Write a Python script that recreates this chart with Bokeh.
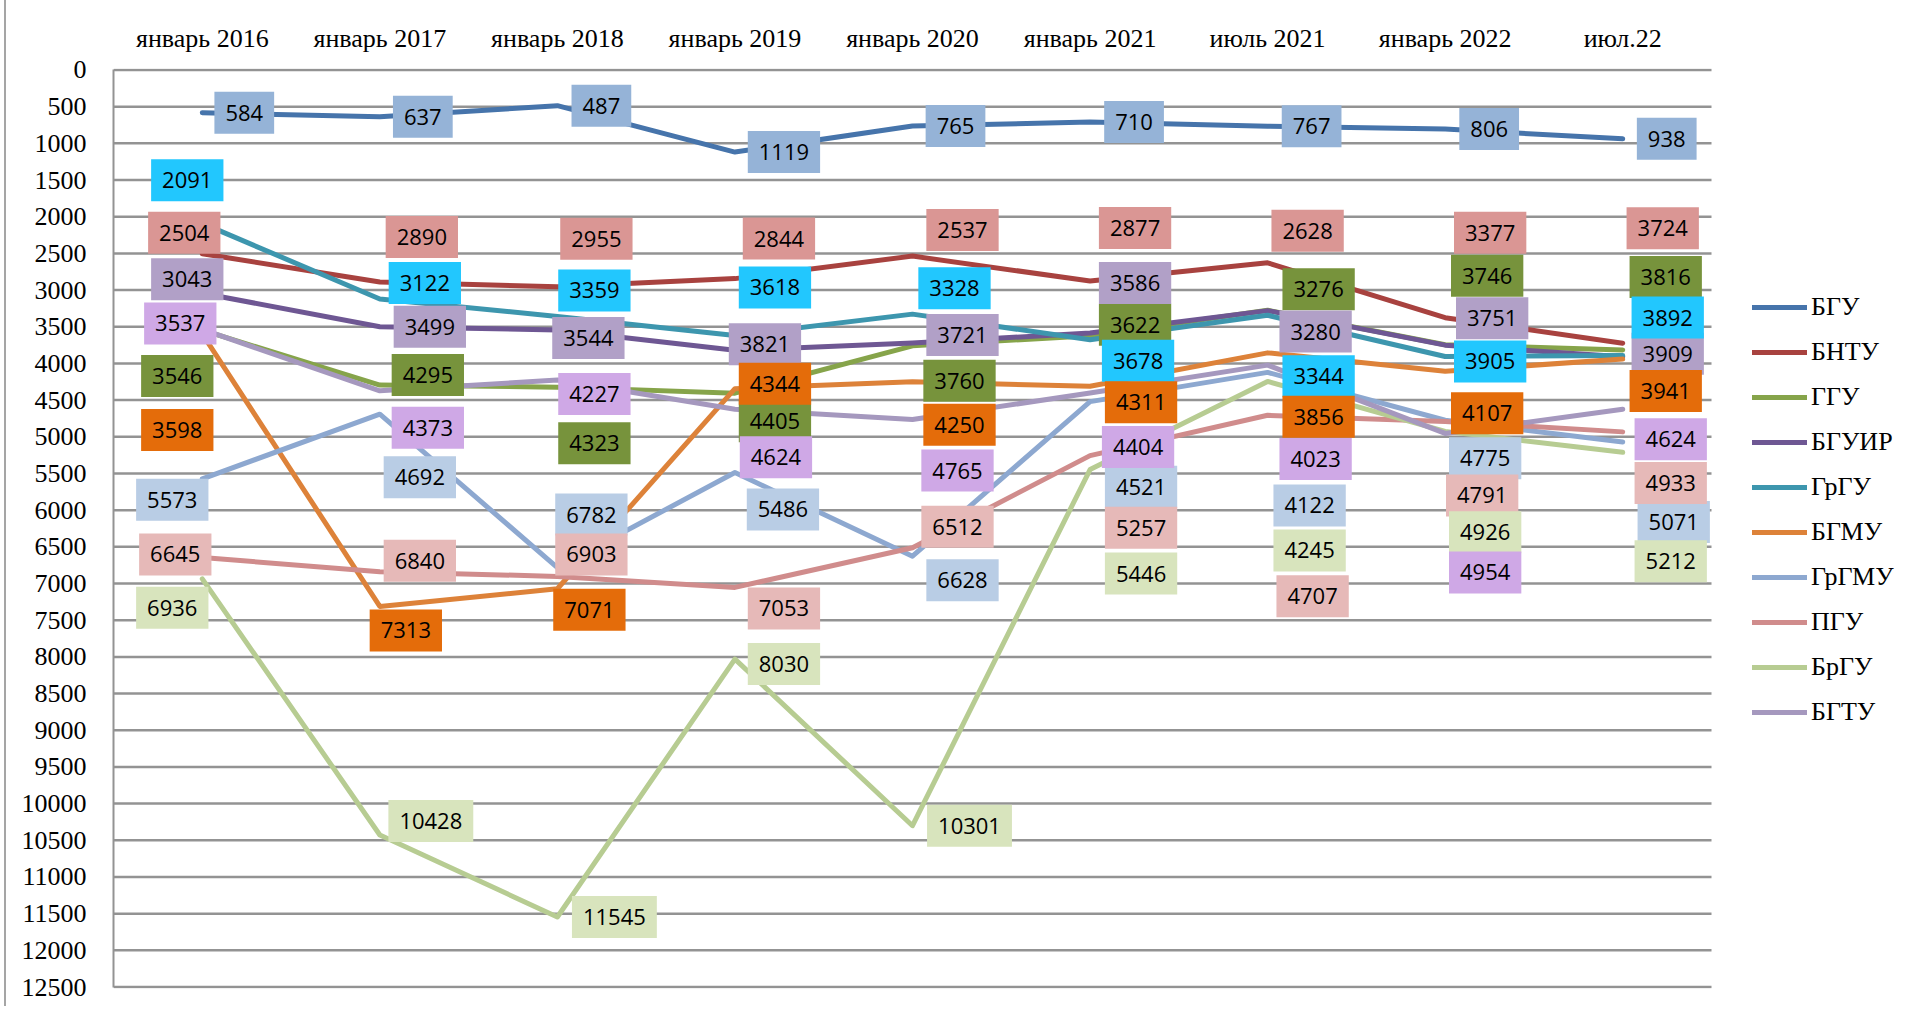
from bokeh.plotting import figure
from bokeh.models import (Range1d, FixedTicker, ColumnDataSource, Legend, LegendItem)
from bokeh.core.properties import value
from bokeh.embed import file_html
from bokeh.resources import INLINE

categories = ["январь 2016", "январь 2017", "январь 2018", "январь 2019",
              "январь 2020", "январь 2021", "июль 2021", "январь 2022", "июл.22"]

series_names = ["БГУ", "БНТУ", "ГГУ", "БГУИР", "ГрГУ", "БГМУ", "ГрГМУ", "ПГУ", "БрГУ", "БГТУ"]

bgu = [584, 637, 487, 1119, 765, 710, 767, 806, 938]
bntu = [2504, 2890, 2955, 2844, 2537, 2877, 2628, 3377, 3724]
ggu = [3546, 4295, 4323, 4405, 3760, 3622, 3276, 3746, 3816]
bguir = [3043, 3499, 3544, 3821, 3721, 3586, 3280, 3751, 3909]
grgu = [2091, 3122, 3359, 3618, 3328, 3678, 3344, 3905, 3892]
bgmu = [3598, 7313, 7071, 4344, 4250, 4311, 3856, 4107, 3941]
grgmu = [5573, 4692, 6782, 5486, 6628, 4521, 4122, 4775, 5071]
pgu = [6645, 6840, 6903, 7053, 6512, 5257, 4707, 4791, 4933]
brgu = [6936, 10428, 11545, 8030, 10301, 5446, 4245, 4926, 5212]
bgtu = [3537, 4373, 4227, 4624, 4765, 4404, 4023, 4954, 4624]

series_values = [bgu, bntu, ggu, bguir, grgu, bgmu, grgmu, pgu, brgu, bgtu]

line_colors = ["#4674AB", "#A8423F", "#86A44A", "#6E5793", "#3D96AE",
               "#DD8239", "#8DA8D0", "#D08C8C", "#B7CC92", "#A598BE"]
label_colors = ["#95B3D7", "#DA9694", "#77933C", "#B1A0C7", "#22C7FE",
                "#E46C0A", "#B9CDE5", "#E6B9B8", "#D8E4BD", "#CFA8E6"]

# data-label placement (screen px offsets from each point, as moved in the source chart)
label_dx = [
    [42, 43, 44, 49, 43, 44, 44, 44, 44],
    [-18, 42, 39, 44, 50, 45, 40, 45, 40],
    [-25, 48, 37, 40, 47, 45, 51, 42, 43],
    [-15, 50, 31, 30, 50, 45, 48, 47, 45],
    [-15, 45, 37, 40, 42, 48, 51, 45, 45],
    [-25, 26, 32, 40, 47, 51, 51, 42, 43],
    [-30, 40, 34, 48, 50, 51, 42, 40, 51],
    [-27, 40, 34, 49, 45, 51, 45, 37, 48],
    [-30, 51, 57, 49, 57, 51, 42, 40, 48],
    [-22, 48, 37, 41, 45, 48, 48, 40, 48],
]
label_dy = [
    [0, 0, 0, 0, 0, 0, 0, 0, 0],
    [-21, -45, -48, -40, -26, -53, -32, -85, -115],
    [46, -10, 56, 28, 35, -11, -21, -69, -73],
    [-14, 0, 8, -6, -8, -50, 21, -27, -3],
    [-43, -16, -26, -48, -26, 21, 61, 5, -38],
    [96, 24, 21, -5, 43, 16, 64, 42, 32],
    [21, 63, -53, 37, 24, 85, 133, 38, 80],
    [-3, -11, -22, 21, -21, 72, 181, 74, 51],
    [29, -14, 0, 5, 0, 104, 169, 101, 109],
    [-6, 37, 14, 48, 51, 54, 94, 139, 30],
]

y_ticks = list(range(0, 12501, 500))
x_idx = list(range(len(categories)))
n_cat = len(categories)

# layout (pixels)
W, H = 1905, 1006
LEFT, TOP, BOTTOM = 107, 68, 18
PLOT_W = 1598                     # width of the 9 category slots
slot = PLOT_W / n_cat
legend_room = (W - LEFT - PLOT_W) / slot   # extra room right of the plot area, in slots

p = figure(width=W, height=H,
           x_range=Range1d(-0.5, n_cat - 0.5 + legend_room),
           y_range=Range1d(12520, -20),
           x_axis_location="above",
           output_backend="svg", toolbar_location=None,
           min_border_left=LEFT, min_border_right=0,
           min_border_top=TOP, min_border_bottom=BOTTOM,
           styles={"margin-left": "4px", "border-left": "2px solid #a5a5a5"})

p.outline_line_color = None
p.background_fill_color = "white"
p.border_fill_color = "white"
p.xgrid.grid_line_color = None
p.ygrid.grid_line_color = None

# axes
p.xaxis.ticker = FixedTicker(ticks=x_idx)
p.xaxis.major_label_overrides = {i: c for i, c in zip(x_idx, categories)}
p.yaxis.ticker = FixedTicker(ticks=y_ticks)
p.yaxis.bounds = (0, 12500)
for ax in (p.xaxis[0], p.yaxis[0]):
    ax.axis_line_color = None
    ax.major_tick_line_color = None
    ax.minor_tick_line_color = None
    ax.major_label_text_font = "Liberation Serif"
    ax.major_label_text_font_size = "26px"
    ax.major_label_text_color = "black"
p.yaxis.axis_line_color = "#939393"
p.yaxis.axis_line_width = 2
p.xaxis.major_label_standoff = 10
p.yaxis.major_label_standoff = 21

# horizontal gridlines over the category area only
p.segment(x0=-0.5, x1=n_cat - 0.5, y0=y_ticks, y1=y_ticks,
          line_color="#939393", line_width=2.5)

# lines
renderers = []
for name, vals, col in zip(series_names, series_values, line_colors):
    src = ColumnDataSource(dict(x=x_idx, y=vals))
    r = p.line("x", "y", source=src, line_color=col, line_width=5,
               line_join="round", line_cap="round")
    renderers.append(r)

# data labels
for vals, dx, dy, bg in zip(series_values, label_dx, label_dy, label_colors):
    src = ColumnDataSource(dict(x=x_idx, y=vals, text=[str(v) for v in vals],
                                dx=dx, dy=dy))
    p.text("x", "y", text="text", source=src, x_offset="dx", y_offset="dy",
           text_align="center", text_baseline="middle",
           text_font=value("Open Sans"), text_font_size="22px", text_color="black",
           background_fill_color=bg, padding=(11, 13))

legend = Legend(items=[LegendItem(label=n, renderers=[r]) for n, r in zip(series_names, renderers)],
                location=(PLOT_W + 41, 261), orientation="vertical",
                glyph_width=55, glyph_height=30, label_height=30, spacing=15,
                label_standoff=4, padding=0, margin=0,
                border_line_color=None, background_fill_alpha=0,
                label_text_font="Liberation Serif", label_text_font_size="26px",
                label_text_color="black")
p.add_layout(legend)

open("out.html", "w").write(file_html(p, INLINE))
